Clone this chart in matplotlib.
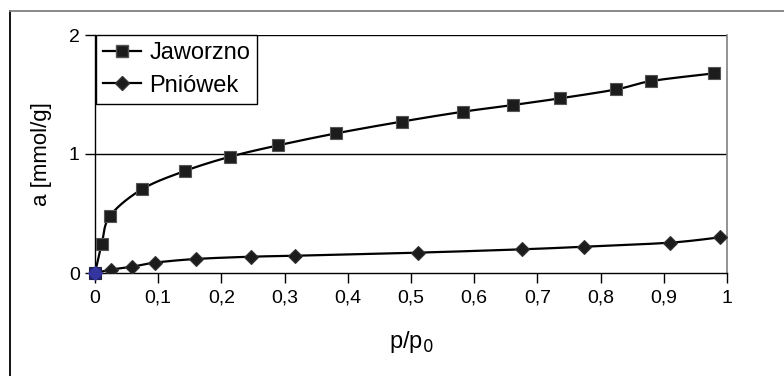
import numpy as np
import matplotlib
matplotlib.use("Agg")
import matplotlib.pyplot as plt
from matplotlib.lines import Line2D

plt.rcParams['font.family'] = ['Liberation Sans', 'DejaVu Sans']

# ---- data ----
jaw_x = [0.0, 0.0106, 0.0237, 0.074, 0.142, 0.2136, 0.29, 0.382, 0.485, 0.583, 0.662, 0.736, 0.825, 0.880, 0.980]
jaw_y = [0.0, 0.244, 0.479, 0.703, 0.857, 0.977, 1.073, 1.174, 1.272, 1.356, 1.412, 1.468, 1.543, 1.613, 1.678]
pni_x = [0.0, 0.0248, 0.059, 0.095, 0.160, 0.247, 0.316, 0.511, 0.676, 0.774, 0.910, 0.989]
pni_y = [0.0, 0.028, 0.053, 0.087, 0.118, 0.137, 0.145, 0.171, 0.199, 0.221, 0.255, 0.300]
x_ticks = [0, 0.1, 0.2, 0.3, 0.4, 0.5, 0.6, 0.7, 0.8, 0.9, 1.0]
x_tick_labels = ["0", "0,1", "0,2", "0,3", "0,4", "0,5", "0,6", "0,7", "0,8", "0,9", "1"]
y_ticks = [0, 1, 2]
y_tick_labels = ["0", "1", "2"]
series_names = ["Jaworzno", "Pniówek"]

W, H = 784, 376
fig = plt.figure(figsize=(W / 100, H / 100), dpi=100)
ax = fig.add_axes([95 / W, (H - 273) / H, (727 - 95) / W, (273 - 35) / H])

ax.set_xlim(0, 1)
ax.set_ylim(0, 2)


def smooth(xs, ys, sx=632.0, sy=119.0, n=30):
    """Bezier smoothing (Excel-like) drawn through the given points in display-like space."""
    P = np.column_stack([np.asarray(xs) * sx, np.asarray(ys) * sy])
    out = [P[0]]
    for i in range(len(P) - 1):
        p0 = P[i - 1] if i > 0 else P[i]
        p1 = P[i]
        p2 = P[i + 1]
        p3 = P[i + 2] if i + 2 < len(P) else P[i + 1]
        c1 = p1 + (p2 - p0) / 6.0
        c2 = p2 - (p3 - p1) / 6.0
        t = np.linspace(0, 1, n)[1:, None]
        seg = ((1 - t) ** 3) * p1 + 3 * ((1 - t) ** 2) * t * c1 + 3 * (1 - t) * t ** 2 * c2 + t ** 3 * p2
        out.extend(seg)
    out = np.array(out)
    return out[:, 0] / sx, out[:, 1] / sy


# gridlines
for yv in y_ticks[1:]:
    ax.axhline(yv, color='black', lw=1.0, zorder=1)

sx_, sy_ = smooth(jaw_x, jaw_y)
ax.plot(sx_, sy_, color='black', lw=1.6, zorder=3, solid_capstyle='round')
ax.plot(jaw_x[1:], jaw_y[1:], ls='none', marker='s', ms=8, mfc='#1c1c1c', mec='#555555', mew=0.8, zorder=4)

sx2, sy2 = smooth(pni_x, pni_y)
ax.plot(sx2, sy2, color='black', lw=1.6, zorder=3)
ax.plot(pni_x[1:], pni_y[1:], ls='none', marker='D', ms=7, mfc='#1c1c1c', mec='#333333', mew=0.8, zorder=4)

# origin points (highlighted blue in reference)
ax.plot([jaw_x[0]], [jaw_y[0]], ls='none', marker='s', ms=8, mfc='#22227a', mec='#222244', mew=0.8, zorder=5, clip_on=False)
ax.plot([pni_x[0]], [pni_y[0]], ls='none', marker='D', ms=7, mfc='#3535a0', mec='#3535a0', mew=0.8, zorder=6, clip_on=False)

# spines
ax.spines['top'].set_visible(False)
ax.spines['right'].set_color('#808080')
ax.spines['right'].set_linewidth(1.2)
ax.spines['left'].set_color('black')
ax.spines['bottom'].set_color('black')
ax.spines['left'].set_linewidth(1.0)
ax.spines['bottom'].set_linewidth(1.0)

ax.set_xticks(x_ticks)
ax.set_xticklabels(x_tick_labels)
ax.set_yticks(y_ticks)
ax.set_yticklabels(y_tick_labels)
ax.tick_params(axis='both', direction='out', length=7, width=1.0, color='black', labelsize=14, pad=5)
ax.tick_params(axis='y', pad=4)

ax.set_xlabel('p/p$_0$', fontsize=17, labelpad=16)
ax.set_ylabel('a [mmol/g]', fontsize=16, labelpad=12)

handles = [
    Line2D([], [], color='black', lw=1.6, marker='s', ms=8, mfc='#1c1c1c', mec='#555555'),
    Line2D([], [], color='black', lw=1.6, marker='D', ms=7, mfc='#1c1c1c', mec='#333333'),
]
leg = ax.legend(handles, series_names, loc='upper left', bbox_to_anchor=(0.0016, 1.0),
                borderaxespad=0, fancybox=False, framealpha=1, edgecolor='black',
                fontsize=17, handlelength=1.6, handletextpad=0.35, labelspacing=0.45,
                borderpad=0.3)
leg.get_frame().set_linewidth(1.0)
leg.set_zorder(10)

# chart-area frame (partly cut off at right/bottom)
fig.add_artist(Line2D([9.5 / W, 9.5 / W], [0, (H - 11) / H], transform=fig.transFigure, color='black', lw=1.3))
fig.add_artist(Line2D([9.5 / W, 1.0], [(H - 11) / H, (H - 11) / H], transform=fig.transFigure, color='#808080', lw=1.3))

fig.savefig('out.png', dpi=100)
